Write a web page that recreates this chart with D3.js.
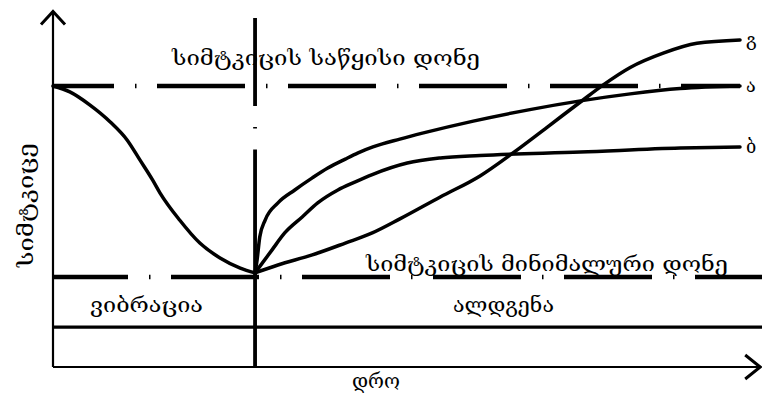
<!DOCTYPE html>
<html>
<head>
<meta charset="utf-8">
<script src="https://cdn.jsdelivr.net/npm/d3@7"></script>
<style>
  html, body { margin: 0; padding: 0; background: #fff; }
  svg { display: block; }
  text { font-family: "DejaVu Serif", "DejaVu Sans", serif; fill: #000; }
</style>
</head>
<body>
<svg id="chart" width="762" height="401"></svg>
<script>
// ---- data (time units, strength units) ----
const levels = { initial: 100, minimum: 32 };
const vibrationEnd = 30;

const vibrationT = [0, 2.5, 5.5, 8.5, 11, 12.9, 14.8, 15.9, 18.8, 21.8, 24.8, 27.8, 30];
const vibrationS = [100, 97.9, 93.2, 87.2, 80.8, 73.7, 66.5, 61.9, 52.3, 44.1, 38.8, 35.2, 33.5];

const curveA_T = [30, 30.3, 30.7, 31.5, 33.4, 35.9, 38.5, 40.8, 43.4, 45.3, 47.5, 51.5, 55, 62.4, 70.8, 78.3, 85.7, 93.1, 102];
const curveA_S = [33.5, 38.1, 46.3, 52.3, 58.4, 63, 67.3, 70.8, 74, 76.2, 78.3, 81.1, 83.3, 87.5, 91.6, 94.7, 97.2, 99.1, 100];

const curveB_T = [30, 32.5, 34.4, 37, 39.3, 42.3, 44.8, 47.4, 52.6, 57.5, 63.4, 78.3, 93.1, 102];
const curveB_S = [33.5, 41.6, 47.7, 53.4, 58.4, 63, 65.8, 68.5, 72.6, 74.4, 75.3, 76.5, 77.9, 78.3];

const curveG_T = [30, 33.4, 38.5, 43.4, 47.4, 51.5, 57.5, 63.4, 68.3, 73.4, 78.3, 81.7, 85.7, 90.6, 95.6, 102];
const curveG_S = [33.5, 36.3, 39.9, 44.1, 47.7, 52.7, 60.5, 68, 76.2, 85.4, 94.3, 100.4, 106.6, 111.7, 115.2, 116.4];

const curveLabels = ["ა", "ბ", "გ"];
const yAxisLabel = "სიმტკიცე";
const xAxisLabel = "დრო";
const initialLevelLabel = "სიმტკიცის საწყისი დონე";
const minimumLevelLabel = "სიმტკიცის მინიმალური დონე";
const phaseLabels = ["ვიბრაცია", "ალდგენა"];

// ---- scales ----
const x = d3.scaleLinear().domain([0, 102]).range([53, 740]);
const y = d3.scaleLinear().domain([0, 100]).range([367, 86]);
const xMax = 105; // right edge of drawing
const yTop = 126.5;

const svg = d3.select("#chart");
const line = d3.line().x(d => x(d[0])).y(d => y(d[1])).curve(d3.curveMonotoneX);
const zip = (a, b) => a.map((v, i) => [v, b[i]]);

// axes
svg.append("line").attr("x1", x(0)).attr("x2", x(0)).attr("y1", y(yTop)).attr("y2", y(0))
  .attr("stroke", "#000").attr("stroke-width", 2.2);
svg.append("path").attr("d", `M${x(0)-12},${y(yTop)+13} L${x(0)},${y(yTop)} L${x(0)+12},${y(yTop)+13}`)
  .attr("fill", "none").attr("stroke", "#000").attr("stroke-width", 3);
svg.append("line").attr("x1", x(0)).attr("x2", x(xMax)).attr("y1", y(0)).attr("y2", y(0))
  .attr("stroke", "#000").attr("stroke-width", 2.2);
svg.append("path").attr("d", `M${x(xMax)-15},${y(0)-12} L${x(xMax)},${y(0)} L${x(xMax)-15},${y(0)+12}`)
  .attr("fill", "none").attr("stroke", "#000").attr("stroke-width", 3);

// phase band line
svg.append("line").attr("x1", x(0)).attr("x2", 762).attr("y1", y(14.2)).attr("y2", y(14.2))
  .attr("stroke", "#000").attr("stroke-width", 3.2);

// level lines (dash-dot)
svg.append("line").attr("x1", x(0)).attr("x2", x(102)).attr("y1", y(levels.initial)).attr("y2", y(levels.initial))
  .attr("stroke", "#000").attr("stroke-width", 4.5)
  .attr("stroke-dasharray", "88,21,1.5,20.5").attr("stroke-dashoffset", 27);
svg.append("line").attr("x1", x(0)).attr("x2", 762).attr("y1", y(levels.minimum)).attr("y2", y(levels.minimum))
  .attr("stroke", "#000").attr("stroke-width", 4.5)
  .attr("stroke-dasharray", "88,21,1.5,20.5").attr("stroke-dashoffset", 13);

// vibration/recovery boundary
const bx = x(vibrationEnd);
svg.append("line").attr("x1", bx).attr("x2", bx).attr("y1", 18).attr("y2", y(0))
  .attr("stroke", "#000").attr("stroke-width", 3.8)
  .attr("stroke-dasharray", "88,21,1.5,21,300");

// curves
[zip(vibrationT, vibrationS), zip(curveA_T, curveA_S), zip(curveB_T, curveB_S), zip(curveG_T, curveG_S)]
  .forEach(pts => {
    svg.append("path").attr("d", line(pts)).attr("fill", "none")
      .attr("stroke", "#000").attr("stroke-width", 3.5).attr("stroke-linecap", "round");
  });

// curve end labels
const ends = [curveA_S[curveA_S.length-1], curveB_S[curveB_S.length-1], curveG_S[curveG_S.length-1]];
curveLabels.forEach((l, i) => {
  svg.append("text").attr("x", 746).attr("y", y(ends[i]) + 6)
    .attr("font-size", 18).text(l);
});

// texts
svg.append("text").attr("x", 172).attr("y", 65).attr("font-size", 20)
  .attr("textLength", 308).attr("lengthAdjust", "spacingAndGlyphs").text(initialLevelLabel);
svg.append("text").attr("x", 366).attr("y", 271).attr("font-size", 20)
  .attr("textLength", 362).attr("lengthAdjust", "spacingAndGlyphs").text(minimumLevelLabel);
svg.append("text").attr("x", 90).attr("y", 312).attr("font-size", 20)
  .attr("textLength", 113).attr("lengthAdjust", "spacingAndGlyphs").text(phaseLabels[0]);
svg.append("text").attr("x", 453).attr("y", 312).attr("font-size", 20)
  .attr("textLength", 101).attr("lengthAdjust", "spacingAndGlyphs").text(phaseLabels[1]);
svg.append("text").attr("x", 352).attr("y", 388).attr("font-size", 20)
  .attr("textLength", 48).attr("lengthAdjust", "spacingAndGlyphs").text(xAxisLabel);
svg.append("text").attr("transform", "translate(33,267) rotate(-90)").attr("font-size", 20)
  .attr("textLength", 124).attr("lengthAdjust", "spacingAndGlyphs").text(yAxisLabel);
</script>
</body>
</html>
